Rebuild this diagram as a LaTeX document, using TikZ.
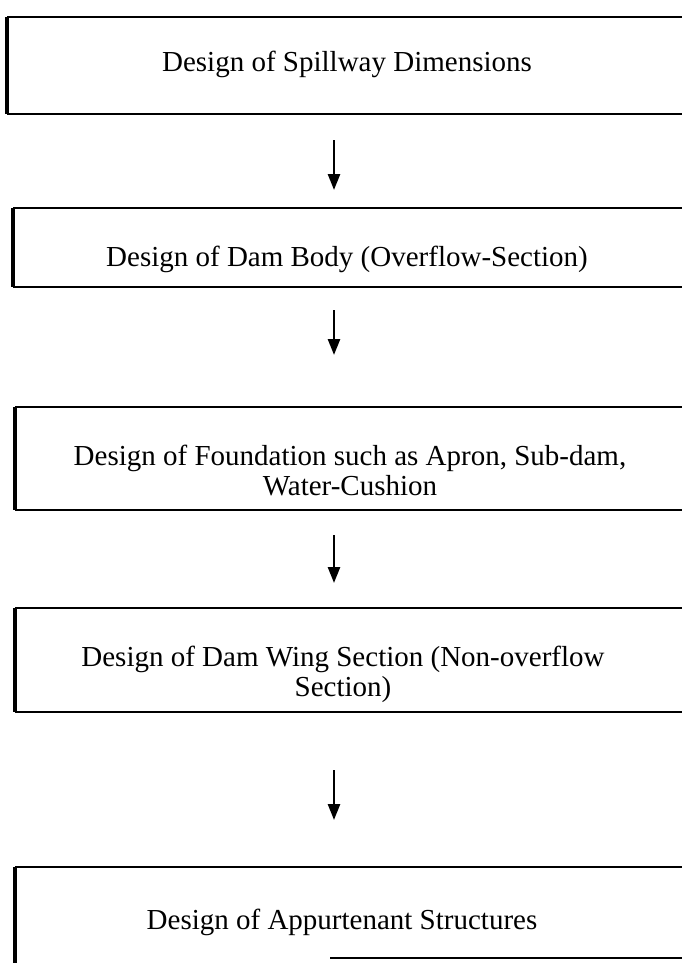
\documentclass[tikz,border=0pt]{standalone}
\usepackage{fontspec}
\setmainfont{Liberation Serif}
\usetikzlibrary{arrows.meta,calc}
\begin{document}
\begin{tikzpicture}[x=1pt,y=-1pt,
  boxarea/.style={draw=none, anchor=north west, inner sep=0pt, minimum width=700pt},
  hline/.style={line width=2pt},
  vline/.style={line width=3.2pt},
  lbl/.style={font=\fontsize{29}{30}\selectfont, align=center, inner sep=0pt},
  arr/.style={line width=2.6pt, -{Triangle[width=12pt,length=16pt]}}]
\useasboundingbox (0,0) rectangle (682,963);
% boxes
\node[boxarea, minimum height=97pt] (b1) at (7,17) {};
\node[boxarea, minimum height=79pt] (b2) at (13,208) {};
\node[boxarea, minimum height=103pt] (b3) at (15,407) {};
\node[boxarea, minimum height=104pt] (b4) at (15,608) {};
\node[boxarea, minimum height=120pt] (b5) at (15,867) {};
\foreach \b in {b1,b2,b3,b4}{
  \draw[hline] (\b.north east) -- (\b.north west);
  \draw[hline] (\b.south west) -- (\b.south east);
  \draw[vline] (\b.north west) -- (\b.south west);
}
\draw[hline] (b5.north east) -- (b5.north west);
\draw[vline] (b5.north west) -- (b5.south west);
\coordinate (b5cut) at (330,958);
\draw[hline] (b5cut) -- (b5cut -| b5.east);
% texts
\node[lbl] (t1) at (347,64) {Design of Spillway Dimensions};
\node[lbl] (t2) at (347,259) {Design of Dam Body (Overflow-Section)};
\node[lbl] (t3) at (350,471) {Design of Foundation such as Apron, Sub-dam,\\Water-Cushion};
\node[lbl] (t4) at (343,674) {Design of Dam Wing Section (Non-overflow\\Section)};
\node[lbl] (t5) at (342,922) {Design of Appurtenant Structures};
% arrows
\coordinate (ax) at (334,0);
\draw[arr, shorten <=26pt, shorten >=18pt] (b1.south -| ax) -- (b2.north -| ax);
\draw[arr, shorten <=23pt, shorten >=52pt] (b2.south -| ax) -- (b3.north -| ax);
\draw[arr, shorten <=25pt, shorten >=25pt] (b3.south -| ax) -- (b4.north -| ax);
\draw[arr, shorten <=58pt, shorten >=47pt] (b4.south -| ax) -- (b5.north -| ax);
\end{tikzpicture}
\end{document}
